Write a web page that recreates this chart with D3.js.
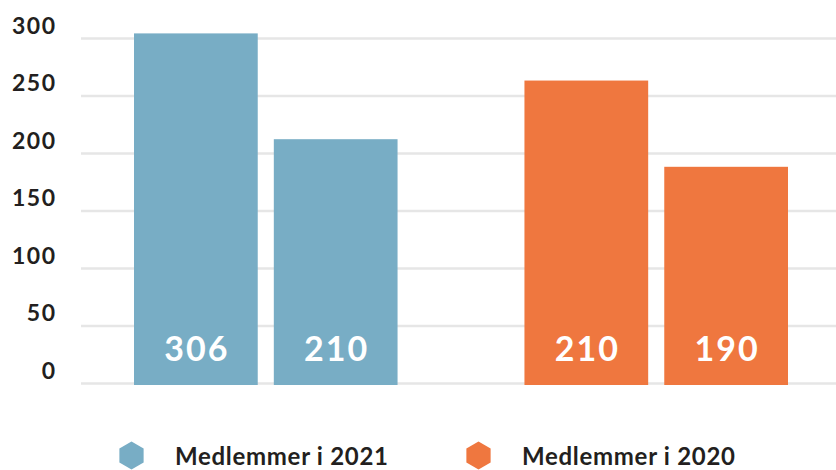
<!DOCTYPE html>
<html>
<head>
<meta charset="utf-8">
<script src="https://cdn.jsdelivr.net/npm/d3@7"></script>
<style>
  body { margin: 0; background: #fff; }
  text { font-family: Lato, "DejaVu Sans", sans-serif; font-weight: 700; }
</style>
</head>
<body>
<div id="chart"></div>
<script>
// Chart data
var seriesNames = ["Medlemmer i 2021", "Medlemmer i 2020"];
var seriesColors = ["#78adc5", "#ef773f"];
var blueValues = [304, 212];
var orangeValues = [263, 188];
var blueLabels = ["306", "210"];
var orangeLabels = ["210", "190"];
var yTicks = [0, 50, 100, 150, 200, 250, 300];

// Dimensions
var width = 836, height = 470;
var gridLeft = 81;

var svg = d3.select("#chart").append("svg")
    .attr("width", width)
    .attr("height", height);

// Scales
var y = d3.scaleLinear()
    .domain([0, 300])
    .range([383, 38]);

var x0 = d3.scaleBand()
    .domain([0, 1])
    .range([134, 788])
    .paddingInner(0.325);

var x1 = d3.scaleBand()
    .domain([0, 1])
    .range([0, x0.bandwidth()])
    .paddingInner(0.115);

var groups = [
  {series: 0, values: blueValues, labels: blueLabels},
  {series: 1, values: orangeValues, labels: orangeLabels}
];

// Gridlines + y labels
var yAxis = svg.append("g")
    .attr("transform", "translate(" + gridLeft + ",0)")
    .call(d3.axisLeft(y)
      .tickValues(yTicks)
      .tickSize(-(width - gridLeft))
      .tickPadding(24.5));

yAxis.select(".domain").remove();
yAxis.selectAll(".tick line")
    .attr("stroke", "#e6e6e6")
    .attr("stroke-width", 2.5);
yAxis.selectAll(".tick text")
    .attr("dy", null)
    .attr("y", -5)
    .attr("fill", "#231f20")
    .style("font-size", "23px")
    .style("letter-spacing", "1.5px")
    .style("font-family", "Lato, sans-serif")
    .style("font-weight", 700);

// Bars
var g = svg.selectAll(".group")
    .data(groups)
  .enter().append("g")
    .attr("class", "group")
    .attr("transform", function(d) { return "translate(" + x0(d.series) + ",0)"; });

g.selectAll("rect")
    .data(function(d) { return d.values.map(function(v, i) { return {i: i, v: v, s: d.series}; }); })
  .enter().append("rect")
    .attr("x", function(d) { return x1(d.i); })
    .attr("width", x1.bandwidth())
    .attr("y", function(d) { return y(d.v); })
    .attr("height", function(d) { return y(0) - y(d.v) + 2; })
    .attr("fill", function(d) { return seriesColors[d.s]; });

// Value labels inside bars
g.selectAll(".val")
    .data(function(d) { return d.labels.map(function(t, i) { return {i: i, t: t}; }); })
  .enter().append("text")
    .attr("class", "val")
    .attr("x", function(d) { return x1(d.i) + x1.bandwidth() / 2 + 1; })
    .attr("y", 361)
    .attr("text-anchor", "middle")
    .attr("fill", "#fff")
    .style("font-size", "34px")
    .style("letter-spacing", "2px")
    .text(function(d) { return d.t; });

// Legend
var hex = d3.range(6).map(function(k) {
  var a = (-90 + 60 * k) * Math.PI / 180;
  return [14 * Math.cos(a), 14 * Math.sin(a)];
});
var legendX = [131.5, 478.5];

var legend = svg.selectAll(".legend")
    .data(seriesNames)
  .enter().append("g")
    .attr("class", "legend")
    .attr("transform", function(d, i) { return "translate(" + legendX[i] + ",455.5)"; });

legend.append("path")
    .attr("d", d3.line()(hex) + "Z")
    .attr("fill", function(d, i) { return seriesColors[i]; });

legend.append("text")
    .attr("x", 43.5)
    .attr("y", 9)
    .attr("fill", "#231f20")
    .style("font-size", "24px")
    .style("letter-spacing", "0.7px")
    .text(function(d) { return d; });
</script>
</body>
</html>
